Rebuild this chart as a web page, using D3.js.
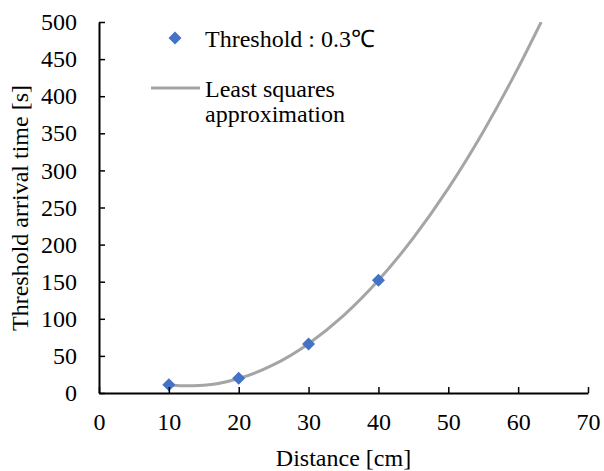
<!DOCTYPE html>
<html>
<head>
<meta charset="utf-8">
<script src="https://cdn.jsdelivr.net/npm/d3@7"></script>
<style>
  html, body { margin: 0; padding: 0; background: #fff; }
  svg text { font-family: "Liberation Serif", "Times New Roman", serif; fill: #000; }
</style>
</head>
<body>
<svg id="chart" width="604" height="471"></svg>
<script>
// Measured threshold arrival times
const distances = [10, 20, 30, 40];
const arrivalTimes = [11, 20, 66, 152];

// Least squares approximation curve, sampled along distance
const fitDistances = [10, 12, 15, 20, 25, 30, 35, 40, 45, 50, 55, 60, 63.3];
const fitTimes = [11.2, 9.8, 10.5, 19.6, 38.2, 66.5, 104.3, 151.9, 209.0, 275.7, 352.1, 438.1, 500];

const xTicks = [0, 10, 20, 30, 40, 50, 60, 70];
const yTicks = [0, 50, 100, 150, 200, 250, 300, 350, 400, 450, 500];

const legendLabels = ["Threshold : 0.3\u2103", "Least squares", "approximation"];

const margin = { left: 99, right: 16, top: 22, bottom: 78 };
const W = 604, H = 471;
const FS = 24;

const svg = d3.select("#chart");

const x = d3.scaleLinear().domain([0, 70]).range([margin.left, W - margin.right]);
const y = d3.scaleLinear().domain([0, 500]).range([H - margin.bottom, margin.top]);

const markerColor = "#4472C4";
const lineColor = "#A5A5A5";

// Clip region for the plot area
svg.append("clipPath").attr("id", "plotClip")
  .append("rect")
  .attr("x", x(0)).attr("y", y(500))
  .attr("width", x(70) - x(0)).attr("height", y(0) - y(500));

// Fitted curve
const fitData = fitDistances.map((d, i) => [d, fitTimes[i]]);
svg.append("path")
  .datum(fitData)
  .attr("clip-path", "url(#plotClip)")
  .attr("fill", "none")
  .attr("stroke", lineColor)
  .attr("stroke-width", 3)
  .attr("d", d3.line().x(d => x(d[0])).y(d => y(d[1])).curve(d3.curveMonotoneX));

// Data markers (diamonds)
const diamond = d3.symbol().type(d3.symbolSquare).size(85);
svg.append("g").selectAll("path")
  .data(distances.map((d, i) => [d, arrivalTimes[i]]))
  .join("path")
  .attr("d", diamond)
  .attr("transform", d => `translate(${x(d[0])},${y(d[1])}) rotate(45)`)
  .attr("fill", markerColor);

// Axes with inward ticks
const xAxis = d3.axisBottom(x).tickValues(xTicks).tickSize(-6).tickPadding(20).tickSizeOuter(0);
const gx = svg.append("g")
  .attr("transform", `translate(0,${y(0)})`)
  .call(xAxis);
gx.select(".domain").attr("stroke", "#000").attr("stroke-width", 2);
gx.selectAll(".tick line").attr("stroke", "#000").attr("stroke-width", 1.5);
gx.selectAll("text").attr("font-size", FS);

const yAxis = d3.axisLeft(y).tickValues(yTicks).tickSize(-6).tickPadding(22).tickSizeOuter(0);
const gy = svg.append("g")
  .attr("transform", `translate(${x(0)},0)`)
  .call(yAxis);
gy.select(".domain").attr("stroke", "#000").attr("stroke-width", 2);
gy.selectAll(".tick line").attr("stroke", "#000").attr("stroke-width", 1.5);
gy.selectAll("text").attr("font-size", FS);

// Axis titles
svg.append("text")
  .attr("x", (x(0) + x(70)) / 2)
  .attr("y", 466)
  .attr("text-anchor", "middle")
  .attr("font-size", FS)
  .text("Distance [cm]");

svg.append("text")
  .attr("transform", "translate(28,208) rotate(-90)")
  .attr("text-anchor", "middle")
  .attr("font-size", FS)
  .text("Threshold arrival time [s]");

// Legend
const lg = svg.append("g");
lg.append("path")
  .attr("d", diamond)
  .attr("transform", "translate(175,38) rotate(45)")
  .attr("fill", markerColor);
lg.append("text").attr("x", 205).attr("y", 47).attr("font-size", FS).text(legendLabels[0]);
lg.append("line")
  .attr("x1", 151).attr("x2", 200).attr("y1", 88).attr("y2", 88)
  .attr("stroke", lineColor).attr("stroke-width", 3);
lg.append("text").attr("x", 205).attr("y", 97).attr("font-size", FS).text(legendLabels[1]);
lg.append("text").attr("x", 205).attr("y", 122).attr("font-size", FS).text(legendLabels[2]);
</script>
</body>
</html>
